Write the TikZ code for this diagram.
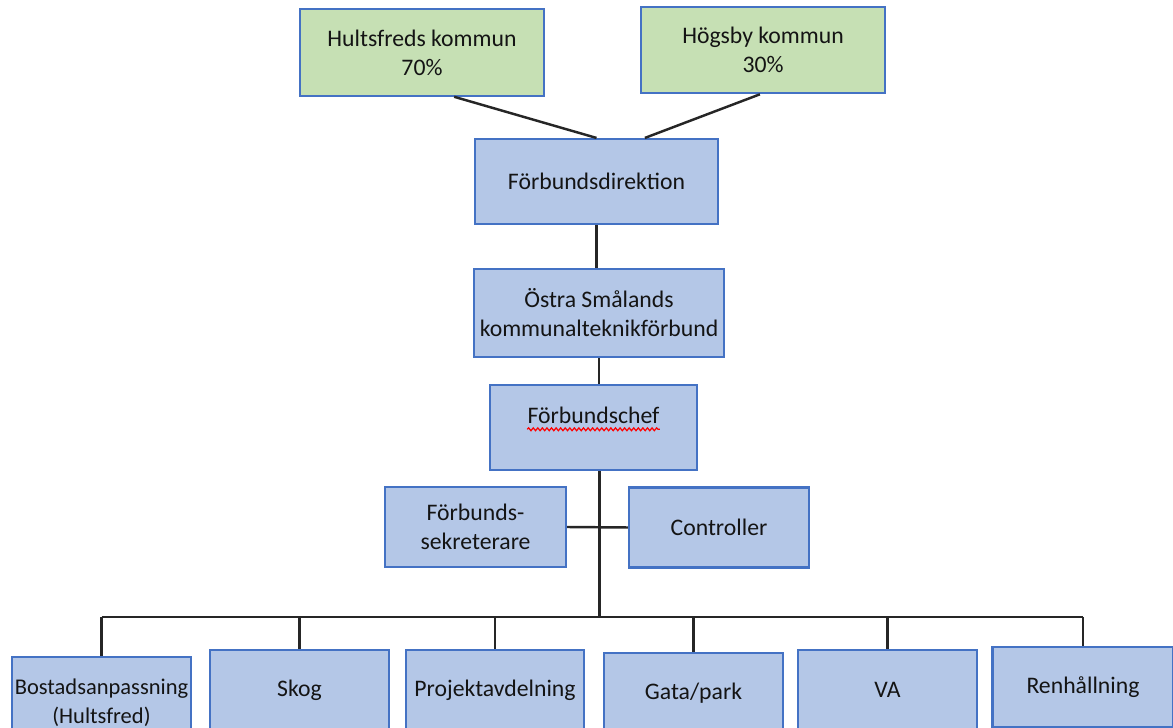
\documentclass[tikz,border=0pt]{standalone}
\usepackage{fontspec}
\setmainfont{Carlito}
\usepackage{tikz}
\usepackage{xcolor}
\usetikzlibrary{positioning}
\usetikzlibrary{decorations.pathmorphing}
\definecolor{boxblue}{HTML}{B4C7E7}
\definecolor{boxgreen}{HTML}{C6E0B4}
\definecolor{edgeblue}{HTML}{4472C4}
\definecolor{txt}{HTML}{141414}

\begin{document}
\begin{tikzpicture}[font=\fontsize{13.5}{16.5}\selectfont, text=txt,
	unit/.style={rectangle,draw=edgeblue,line width=1.2pt,fill=boxblue,align=center,minimum width=3.58cm,minimum height=1.6cm},
	owner/.style={unit,fill=boxgreen,minimum width=4.88cm,minimum height=1.73cm},
	link/.style={draw=black!85,line width=1.4pt}]
	\useasboundingbox (0,0) rectangle (23.46,-14.56);
	% owners
	\node (Hultsfred) at (8.44,-1.05) [owner] {Hultsfreds kommun\\70\%};
	\node (Hogsby) at (15.26,-1.0) [owner] {Högsby kommun\\30\%};
	% management
	\node (Direktion) at (11.93,-3.63) [unit,minimum width=4.86cm,minimum height=1.70cm] {Förbundsdirektion};
	\node (Ostra) at (11.98,-6.26) [unit,minimum width=4.96cm,minimum height=1.76cm] {Östra Smålands\\kommunalteknikförbund};
	\node (Chef) at (11.87,-8.55) [unit,minimum width=4.14cm,minimum height=1.70cm] {};
	\node (ChefText) at (11.87,-8.30) [inner sep=0pt] {Förbundschef};
	\node (Sekreterare) at (9.51,-10.54) [unit,minimum width=3.62cm] {Förbunds-\\sekreterare};
	\node (Controller) at (14.38,-10.55) [unit,minimum width=3.60cm] {Controller};
	% departments
	\node (Bostad) at (2.03,-14.06) [unit,inner xsep=0pt,minimum height=1.85cm,font=\fontsize{12.8}{16.5}\selectfont] {Bostadsanpassning\\(Hultsfred)};
	\node (Skog) at (5.99,-13.80) [unit] {Skog};
	\node (Projekt) at (9.90,-13.80) [unit,minimum width=3.56cm] {Projektavdelning};
	\node (Gata) at (13.87,-13.86) [unit] {Gata/park};
	\node (VA) at (17.75,-13.80) [unit] {VA};
	\node (Renhallning) at (21.66,-13.74) [unit,minimum width=3.62cm] {Renhållning};
	\coordinate (Spine) at (11.99,-12.34);
	% lines
	\draw[link] (Hultsfred.-54.5) -- (Direktion.90.5);
	\draw[link] (Hogsby.-94) -- (Direktion.42.8);
	\draw[link] (Direktion.south) -- (Direktion.south |- Ostra.north);
	\draw[link] (Ostra.south) -- (Ostra.south |- Chef.north);
	\draw[link] (Chef.south -| Spine) -- (Spine);
	\draw[link] (Sekreterare.east) -- (Controller.west);
	\draw[link] (Spine -| Bostad.north) -- (Spine -| Renhallning.north);
	\foreach \n in {Bostad,Skog,Projekt,Gata,VA,Renhallning}
		\draw[link] (Spine -| \n.north) -- (\n.north);
	\draw[red,line width=0.7pt,decorate,decoration={snake,amplitude=0.8pt,segment length=2.6pt}] ([yshift=-3.5pt]ChefText.base west) -- ([yshift=-3.5pt]ChefText.base east);
\end{tikzpicture}
\end{document}
